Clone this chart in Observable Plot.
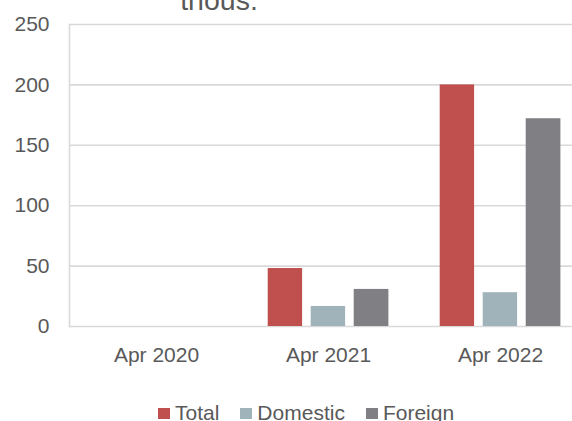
<!DOCTYPE html>
<html>
<head>
<meta charset="utf-8">
<script src="https://cdn.jsdelivr.net/npm/d3@7"></script>
<script src="https://cdn.jsdelivr.net/npm/@observablehq/plot@0.6"></script>
<style>
  html, body { margin: 0; padding: 0; background: white; }
  #wrap { position: relative; width: 572px; height: 421px; overflow: hidden; font-family: "Liberation Sans", Arial, sans-serif; color: #595959; }
  #title { position: absolute; z-index: 2; left: 0; width: 438px; top: -13.7px; text-align: center; font-size: 28.5px; line-height: 28px; color: #595959; }
  #chart { position: absolute; z-index: 1; left: 0; top: 0; }
  #legend { position: absolute; z-index: 2; left: 158px; top: 403px; display: flex; align-items: center; font-size: 21px; line-height: 20px; white-space: nowrap; }
  .item { display: flex; align-items: center; margin-right: 21px; }
  .sw { width: 12px; height: 11px; margin-right: 5px; }
</style>
</head>
<body>
<div id="wrap">
  <div id="chart"></div>
  <div id="title">thous.</div>
  <div id="legend"></div>
</div>
<script>
const groups = ["Apr 2020", "Apr 2021", "Apr 2022"];
const series = ["Total", "Domestic", "Foreign"];
const total = [0, 48, 200];
const domestic = [0, 16.6, 28];
const foreign = [0, 30.7, 172];
const colors = ["#c0504d", "#a1b3ba", "#808084"];
const yTicks = [0, 50, 100, 150, 200, 250];

const values = [total, domestic, foreign];
const data = [];
series.forEach((s, i) => groups.forEach((g, j) => data.push({group: g, series: s, value: values[i][j]})));

// bar placement within each group band (style)
const insets = [[25.7, 111.9], [68.7, 68.9], [111.7, 25.6]];

const chart = Plot.plot({
  width: 572,
  height: 380,
  marginLeft: 69,
  marginRight: -14,
  marginTop: 24,
  marginBottom: 54,
  style: {fontFamily: "'Liberation Sans', Arial, sans-serif", fontSize: "21px", color: "#595959", background: "white", overflow: "hidden"},
  x: {domain: groups, padding: 0, label: null, tickSize: 0, tickPadding: 21},
  y: {domain: [0, 250], ticks: yTicks, label: null, tickSize: 0, tickPadding: 20},
  marks: [
    Plot.ruleY(yTicks, {stroke: "#d9d9d9", strokeWidth: 1.6}),
    Plot.frame({anchor: "left", stroke: "#d9d9d9", strokeWidth: 1.6}),
    ...series.map((s, i) => Plot.barY(data.filter(d => d.series === s), {
      x: "group", y: "value", fill: colors[i],
      insetLeft: insets[i][0], insetRight: insets[i][1]
    }))
  ]
});
document.getElementById("chart").appendChild(chart);

const legend = document.getElementById("legend");
series.forEach((s, i) => {
  const it = document.createElement("div");
  it.className = "item";
  const sw = document.createElement("div");
  sw.className = "sw";
  sw.style.background = colors[i];
  const t = document.createElement("span");
  t.textContent = s;
  it.appendChild(sw); it.appendChild(t);
  legend.appendChild(it);
});
</script>
</body>
</html>
